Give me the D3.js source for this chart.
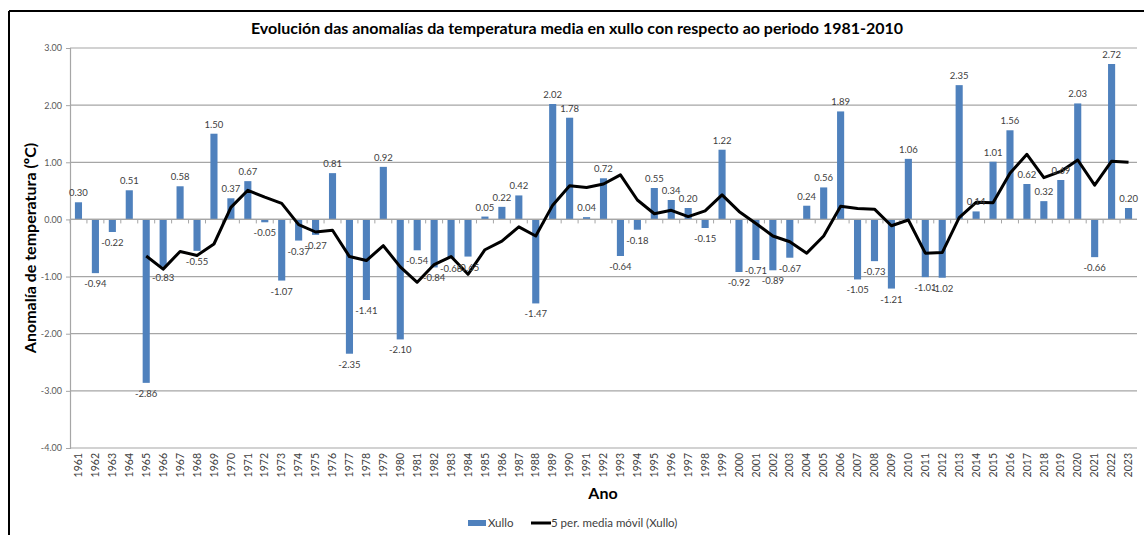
<!DOCTYPE html>
<html>
<head>
<meta charset="utf-8">
<script src="https://cdn.jsdelivr.net/npm/d3@7"></script>
<style>
  body { margin: 0; background: #fff; }
  svg { display: block; font-family: Lato, "Open Sans", sans-serif; }
</style>
</head>
<body>
<svg id="chart" width="1144" height="535"></svg>
<script>
const years = ['1961','1962','1963','1964','1965','1966','1967','1968','1969','1970',
  '1971','1972','1973','1974','1975','1976','1977','1978','1979','1980',
  '1981','1982','1983','1984','1985','1986','1987','1988','1989','1990',
  '1991','1992','1993','1994','1995','1996','1997','1998','1999','2000',
  '2001','2002','2003','2004','2005','2006','2007','2008','2009','2010',
  '2011','2012','2013','2014','2015','2016','2017','2018','2019','2020',
  '2021','2022','2023'];

// anomalía de xullo (ºC)
const xullo = [0.30,-0.94,-0.22,0.51,-2.86,-0.83,0.58,-0.55,1.50,0.37,
  0.67,-0.05,-1.07,-0.37,-0.27,0.81,-2.35,-1.41,0.92,-2.10,
  -0.54,-0.84,-0.68,-0.65,0.05,0.22,0.42,-1.47,2.02,1.78,
  0.04,0.72,-0.64,-0.18,0.55,0.34,0.20,-0.15,1.22,-0.92,
  -0.71,-0.89,-0.67,0.24,0.56,1.89,-1.05,-0.73,-1.21,1.06,
  -1.01,-1.02,2.35,0.14,1.01,1.56,0.62,0.32,0.69,2.03,
  -0.66,2.72,0.20];

// 5 per. media móvil
const mediaMovil = [null,null,null,null,-0.64,-0.87,-0.56,-0.63,-0.43,0.21,
  0.51,0.39,0.28,-0.09,-0.22,-0.19,-0.65,-0.72,-0.46,-0.83,
  -1.10,-0.79,-0.65,-0.96,-0.53,-0.38,-0.13,-0.29,0.25,0.59,
  0.56,0.62,0.78,0.34,0.10,0.16,0.05,0.15,0.43,0.14,
  -0.07,-0.29,-0.39,-0.59,-0.29,0.23,0.19,0.18,-0.11,-0.01,
  -0.59,-0.58,0.03,0.30,0.29,0.81,1.14,0.73,0.84,1.04,
  0.60,1.02,1.00];

const yTicks = [-4, -3, -2, -1, 0, 1, 2, 3];

const title = 'Evolución das anomalías da temperatura media en xullo con respecto ao periodo 1981-2010';
const seriesNames = ['Xullo', '5 per. media móvil (Xullo)'];

const blue = '#4f81bd';
const grid = '#a6a6a6';

// plain hyphen for negatives, like the source
const fmt = d3.formatLocale({ decimal: '.', thousands: ',', grouping: [3], currency: ['', ''], minus: '-' }).format('.2f');

const svg = d3.select('#chart');

const x = d3.scaleBand()
  .domain(years)
  .range([70, 1137])
  .paddingInner(0.58)
  .paddingOuter(0.29);

const y = d3.scaleLinear()
  .domain([-4, 3])
  .range([448, 48]);

// outer frame
svg.append('line').attr('x1', 9).attr('x2', 1144).attr('y1', 11).attr('y2', 11)
  .attr('stroke', '#000').attr('stroke-width', 2);
svg.append('line').attr('x1', 9).attr('x2', 9).attr('y1', 11).attr('y2', 535)
  .attr('stroke', '#000').attr('stroke-width', 2);

// gridlines
svg.append('g')
  .selectAll('line')
  .data(yTicks)
  .join('line')
  .attr('x1', 70)
  .attr('x2', 1137)
  .attr('y1', d => y(d))
  .attr('y2', d => y(d))
  .attr('stroke', grid)
  .attr('stroke-width', 1.2);

// y axis
const yAxis = svg.append('g')
  .attr('transform', 'translate(70,0)')
  .call(d3.axisLeft(y).tickValues(yTicks).tickFormat(fmt).tickSize(4).tickPadding(4));
yAxis.select('.domain').attr('stroke', grid).attr('stroke-width', 1.2);
yAxis.selectAll('.tick line').attr('stroke', grid);
yAxis.selectAll('.tick text')
  .attr('fill', '#595959')
  .style('font-size', '9px')
  .style('font-family', 'Lato, sans-serif');

// bars
svg.append('g')
  .selectAll('rect')
  .data(xullo)
  .join('rect')
  .attr('x', (d, i) => x(years[i]))
  .attr('width', x.bandwidth())
  .attr('y', d => y(Math.max(0, d)))
  .attr('height', d => Math.abs(y(d) - y(0)))
  .attr('fill', blue);

// zero axis with ticks between categories
const gap = (x.step() - x.bandwidth()) / 2;
svg.append('line')
  .attr('x1', 70).attr('x2', 1137)
  .attr('y1', y(0)).attr('y2', y(0))
  .attr('stroke', grid).attr('stroke-width', 1.2);
svg.append('g')
  .selectAll('line')
  .data(years)
  .join('line')
  .attr('x1', d => x(d) - gap)
  .attr('x2', d => x(d) - gap)
  .attr('y1', y(0))
  .attr('y2', y(0) + 4)
  .attr('stroke', grid);

// category labels
const xAxis = svg.append('g')
  .attr('transform', `translate(0,${y(-4)})`)
  .call(d3.axisBottom(x).tickSize(0).tickPadding(0));
xAxis.select('.domain').remove();
xAxis.selectAll('.tick text')
  .attr('transform', 'rotate(-90)')
  .attr('text-anchor', 'end')
  .attr('x', -5)
  .attr('y', 0)
  .attr('dy', '0.35em')
  .attr('fill', '#404040')
  .style('font-size', '10.5px')
  .style('font-family', 'Lato, sans-serif');

// moving average line
const line = d3.line()
  .defined(d => d != null)
  .x((d, i) => x(years[i]) + x.bandwidth() / 2)
  .y(d => y(d));

svg.append('path')
  .datum(mediaMovil)
  .attr('d', line)
  .attr('fill', 'none')
  .attr('stroke', '#000')
  .attr('stroke-width', 3)
  .attr('stroke-linejoin', 'round');

// data labels
svg.append('g')
  .selectAll('text')
  .data(xullo)
  .join('text')
  .attr('x', (d, i) => x(years[i]) + x.bandwidth() / 2)
  .attr('y', d => d >= 0 ? y(d) - 6 : y(d) + 14)
  .attr('text-anchor', 'middle')
  .attr('fill', '#404040')
  .style('font-size', '9.5px')
  .text(d => fmt(d));

// title
svg.append('text')
  .attr('x', 577)
  .attr('y', 34)
  .attr('text-anchor', 'middle')
  .style('font-size', '16px')
  .style('font-weight', 'bold')
  .attr('fill', '#000')
  .text(title);

// axis titles
svg.append('text')
  .attr('transform', 'translate(36,248) rotate(-90)')
  .attr('text-anchor', 'middle')
  .style('font-size', '16px')
  .style('font-weight', 'bold')
  .text('Anomalía de temperatura (ºC)');

svg.append('text')
  .attr('x', 603)
  .attr('y', 499)
  .attr('text-anchor', 'middle')
  .style('font-size', '16px')
  .style('font-weight', 'bold')
  .text('Ano');

// legend
const legend = svg.append('g').attr('transform', 'translate(468,523)');
legend.append('rect')
  .attr('x', 0).attr('y', -3).attr('width', 18).attr('height', 6)
  .attr('fill', blue);
legend.append('text')
  .attr('x', 20).attr('y', 4)
  .style('font-size', '11.5px')
  .attr('fill', '#404040')
  .text(seriesNames[0]);
legend.append('line')
  .attr('x1', 63).attr('x2', 83).attr('y1', 0).attr('y2', 0)
  .attr('stroke', '#000').attr('stroke-width', 3);
legend.append('text')
  .attr('x', 83).attr('y', 4)
  .style('font-size', '11.5px')
  .attr('fill', '#404040')
  .text(seriesNames[1]);
</script>
</body>
</html>
